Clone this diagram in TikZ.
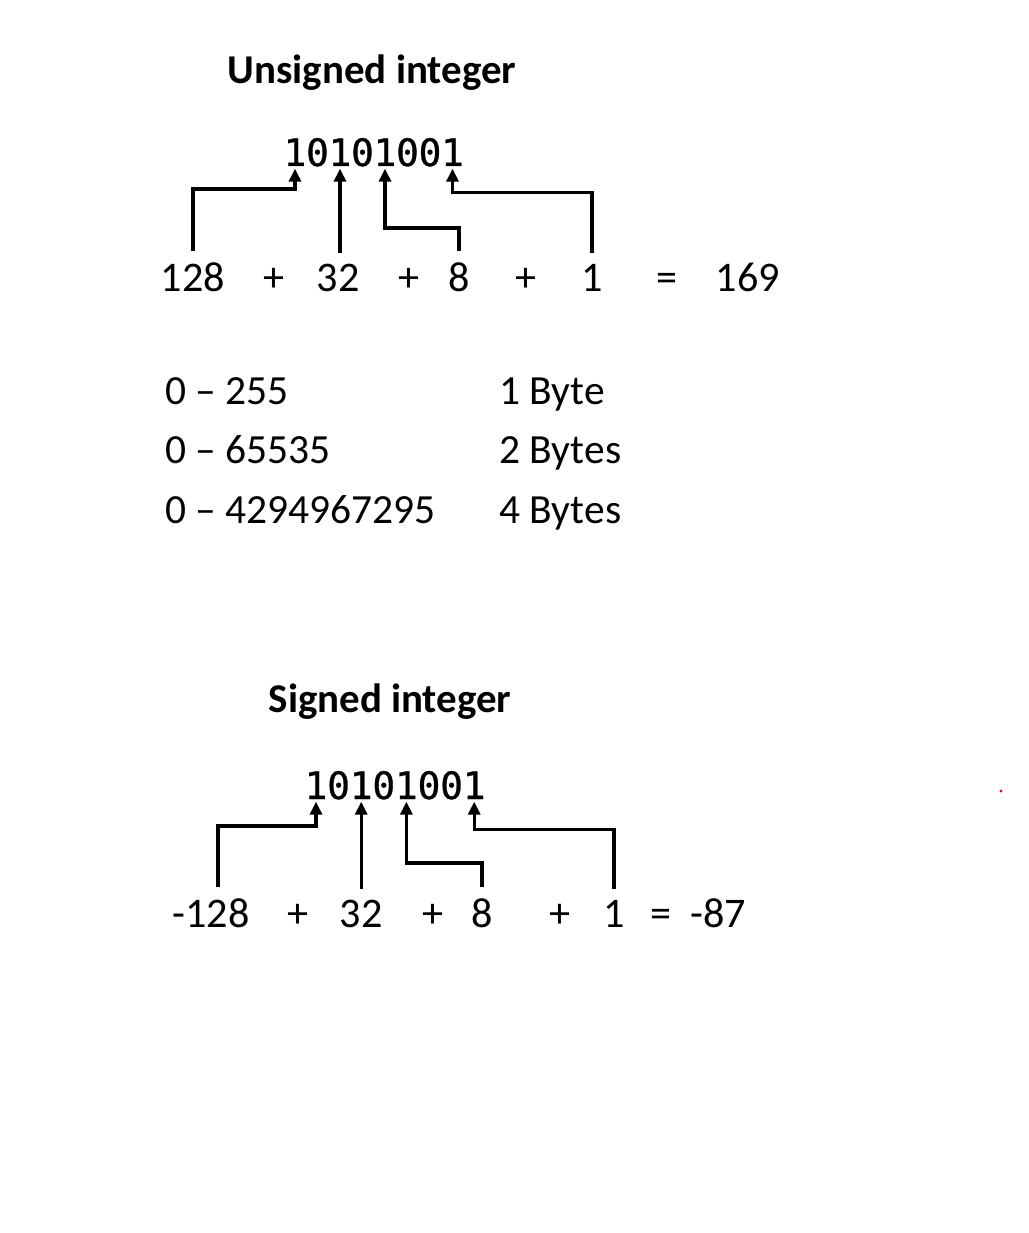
\documentclass[tikz,border=0pt]{standalone}
\usepackage{fontspec}
\setmainfont{Carlito}
\newfontfamily\codefont[FakeBold=0.8]{DejaVu Sans Mono}
\usetikzlibrary{arrows.meta}

\begin{document}
\begin{tikzpicture}[x=0.02cm, y=-0.02cm,
  title/.style={font=\fontsize{23.3}{27}\selectfont\bfseries, anchor=base, inner sep=0pt},
  bit/.style={font=\codefont\fontsize{21.5}{26}\selectfont, anchor=base, inner sep=0pt, outer ysep=1.5pt},
  term/.style={font=\fontsize{24}{28}\selectfont, anchor=base, inner sep=0pt, outer ysep=6.3pt},
  rangetext/.style={font=\fontsize{23.6}{27}\selectfont, anchor=base west, inner sep=0pt},
  conn/.style={line width=1.9pt, -{Triangle[length=7.4pt,width=6.8pt]}},
]
\fill[white] (0,0) rectangle (1028,1233);

% ─── Unsigned ───
\node[title] (utitle) at (372,84) {Unsigned integer};
\foreach \b [count=\i from 0] in {1,0,1,0,1,0,0,1}
  \node[bit] (ub\i) at (295+22.5*\i,166) {\b};

\node[term] (u128) at (193,291) {128};
\node[term] (up1) at (274,291) {+};
\node[term] (u32) at (338,291) {32};
\node[term] (up2) at (409,291) {+};
\node[term] (u8) at (459,291) {8};
\node[term] (up3) at (526,291) {+};
\node[term] (u1) at (592,291) {1};
\node[term] (ueq) at (667,291) {=};
\node[term] (usum) at (748,291) {169};

\draw[conn] (u128.north) -- ++(0,-62) -| (ub0.south);
\draw[conn] (u32.north -| ub2) -- (ub2.south);
\draw[conn] (u8.north) -- ++(0,-23) -| (ub4.south);
\draw[conn] (u1.north) -- ++(0,-60) -| (ub7.south);

% Ranges
\node[rangetext] (r1) at (165,404) {0 – 255};
\node[rangetext] (r2) at (165,463) {0 – 65535};
\node[rangetext] (r3) at (165,523) {0 – 4294967295};
\node[rangetext] (s1) at (499,404) {1 Byte};
\node[rangetext] (s2) at (499,463) {2 Bytes};
\node[rangetext] (s3) at (499,523) {4 Bytes};

% ─── Signed ───
\node[title] (stitle) at (390,712) {Signed integer};
\foreach \b [count=\i from 0] in {1,0,1,0,1,0,0,1}
  \node[bit] (sb\i) at (316+22.6*\i,799) {\b};

\node[term] (s128) at (211,927) {-128};
\node[term] (sp1) at (298,927) {+};
\node[term] (s32) at (361,927) {32};
\node[term] (sp2) at (433,927) {+};
\node[term] (s8) at (482,927) {8};
\node[term] (sp3) at (560,927) {+};
\node[term] (s1n) at (614,927) {1};
\node[term] (seq) at (661,927) {=};
\node[term] (ssum) at (718,927) {-87};

\draw[conn] ([xshift=4pt]s128.north) -- ++(0,-61) -| (sb0.south);
\draw[conn] (s32.north -| sb2) -- (sb2.south);
\draw[conn] (s8.north) -- ++(0,-24) -| (sb4.south);
\draw[conn] (s1n.north) -- ++(0,-59) -| (sb7.south);

\fill[red] (1001,791) circle (1.6);
\end{tikzpicture}
\end{document}
